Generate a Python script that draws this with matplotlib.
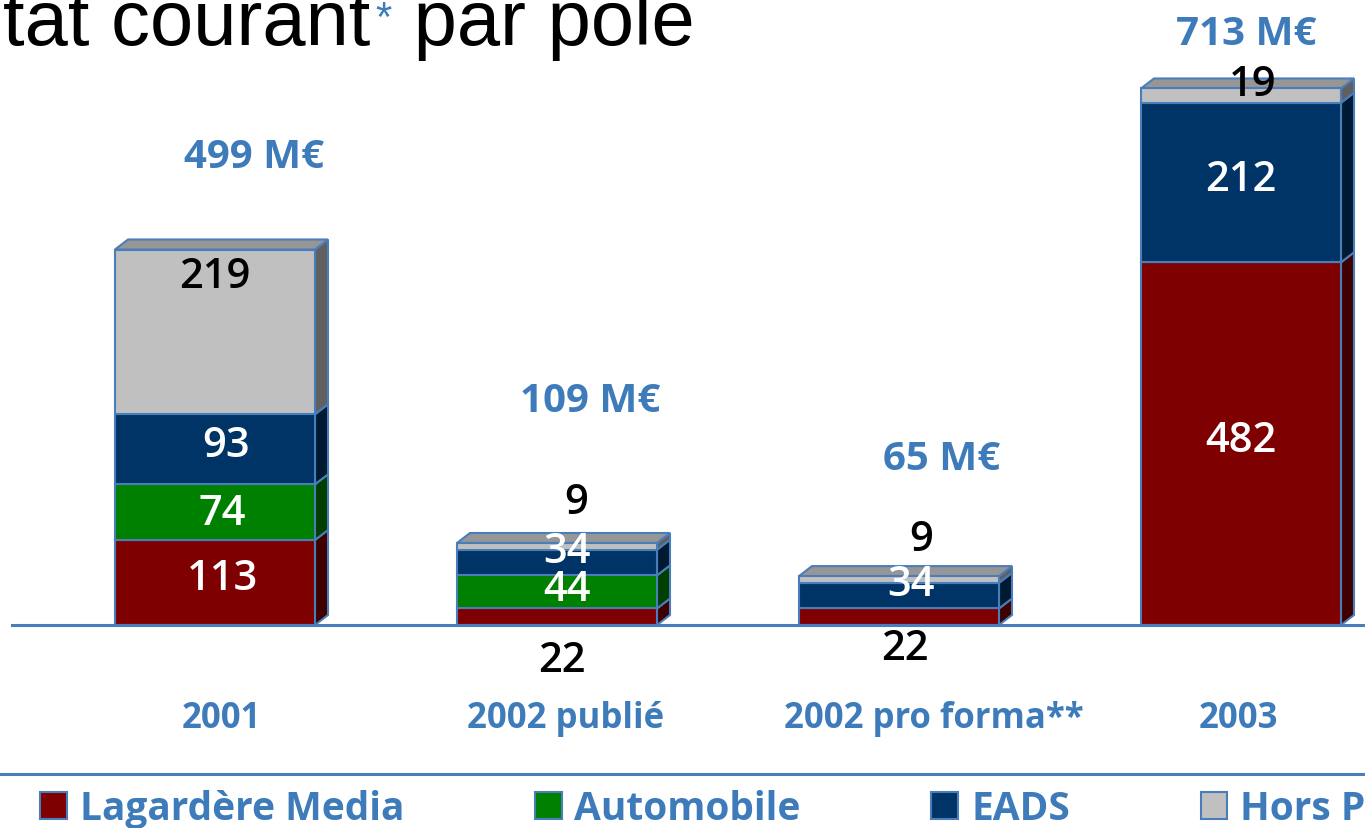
"""Résultat courant par pôle - stacked bars with a fake 3D look."""
import matplotlib
matplotlib.use('Agg')
import numpy as np
import matplotlib.pyplot as plt
from matplotlib.patches import Polygon, Patch
from matplotlib.lines import Line2D

# data (M€)
categories = ['2001', '2002 publié', '2002 pro forma**', '2003']
series_names = ['Lagardère Media', 'Automobile', 'EADS', 'Hors Pôle']
media = [113, 22, 22, 482]
automobile = [74, 44, 0, 0]
eads = [93, 34, 34, 212]
hors_pole = [219, 9, 9, 19]
totals = [499, 109, 65, 713]

# styles
FACE = ['#7F0000', '#008000', '#003366', '#C0C0C0']
SIDE = ['#3F0000', '#003F00', '#001A33', '#606060']
TOP = '#969696'
EDGE = '#4A7EBB'
BLUE = '#3E7BBA'
LABEL_COLOR = ['white', 'white', 'white', 'black']

# label offsets in pixels from the segment centre (dx, dy), per category then series
LABEL_OFFSETS = [
    [(7, 4), (7, -1), (11, 4), (0, 56)],
    [(5, -43), (10, 3), (10, 12), (19, 44)],
    [(6, -31), (0, 0), (12, 12), (22, 40)],
    [(0, 4), (0, 0), (0, 4), (12, 12)],
]
TOTAL_OFFSETS = [(39, 93), (33, 142), (43, 118), (5, 55)]
CAT_OFFSETS = [6, 9, 35, -3]

W, H = 1365, 829
BASE_PX = 626          # pixel row of the zero line
PX_PER_UNIT = 0.7525
PX_PER_CAT = 342
FIRST_PX = 215

FONT = ['Open Sans', 'DejaVu Sans']
TITLE_FONT = ['Liberation Sans', 'DejaVu Sans']


def main():
    plt.rcParams['font.family'] = FONT
    fig = plt.figure(figsize=(W / 100, H / 100), dpi=100)
    ax = fig.add_axes([0, 0, 1, 1])
    ax.set_xlim(-FIRST_PX / PX_PER_CAT, (W - FIRST_PX) / PX_PER_CAT)
    ax.set_ylim(-(H - BASE_PX) / PX_PER_UNIT, BASE_PX / PX_PER_UNIT)
    ax.axis('off')

    x = np.arange(len(categories))
    width = 200 / PX_PER_CAT
    ddx = 13 / PX_PER_CAT
    ddy = 10 / PX_PER_UNIT

    values = [media, automobile, eads, hors_pole]
    bottom = np.zeros(len(categories))
    for s, vals in enumerate(values):
        vals = np.array(vals, dtype=float)
        ax.bar(x, vals, width, bottom=bottom, color=FACE[s], edgecolor=EDGE,
               linewidth=1.5, zorder=3)
        for i in range(len(x)):
            if vals[i] <= 0:
                continue
            x0 = x[i] + width / 2
            b, t = bottom[i], bottom[i] + vals[i]
            ax.add_patch(Polygon([(x0, b), (x0 + ddx, b + ddy), (x0 + ddx, t + ddy), (x0, t)],
                                 closed=True, facecolor=SIDE[s], edgecolor=EDGE,
                                 linewidth=1.5, zorder=2))
            dx, dy = LABEL_OFFSETS[i][s]
            # labels pushed outside their segment are drawn in black
            outside = abs(dy) > vals[i] * PX_PER_UNIT / 2
            color = 'black' if outside else LABEL_COLOR[s]
            ax.annotate(f'{int(vals[i])}', xy=(x[i], b + vals[i] / 2), xytext=(dx, dy),
                        textcoords='offset pixels', ha='center', va='center',
                        fontsize=30, fontweight='semibold', color=color, zorder=5)
        bottom = bottom + vals

    # top faces, totals and category names
    for i in range(len(x)):
        xl, xr, t = x[i] - width / 2, x[i] + width / 2, bottom[i]
        ax.add_patch(Polygon([(xl, t), (xl + ddx, t + ddy), (xr + ddx, t + ddy), (xr, t)],
                             closed=True, facecolor=TOP, edgecolor=EDGE,
                             linewidth=1.5, zorder=2))
        dx, dy = TOTAL_OFFSETS[i]
        ax.annotate(f'{totals[i]} M€', xy=(x[i], t), xytext=(dx, dy),
                    textcoords='offset pixels', ha='center', va='center',
                    fontsize=29, fontweight='bold', color=BLUE)
        ax.annotate(categories[i], xy=(x[i], 0), xytext=(CAT_OFFSETS[i], -93),
                    textcoords='offset pixels', ha='center', va='center',
                    fontsize=25, fontweight='bold', color=BLUE)

    ax.axhline(0, xmin=12 / W, xmax=1, color=EDGE, linewidth=2.2, zorder=4)

    # title (cut by the slide edge, as in the original)
    t1 = fig.text(3 / W, 1 - 45 / H, 'tat courant', fontsize=56, color='black',
                  family=TITLE_FONT, va='baseline')
    t2 = ax.annotate('*', xy=(1, 1), xycoords=t1, xytext=(5, -12), textcoords='offset pixels',
                     fontsize=30, color=BLUE, family=TITLE_FONT, ha='left', va='top')
    ax.annotate(' par pôle', xy=(1, 0), xycoords=(t2, t1), fontsize=56, color='black',
                family=TITLE_FONT, ha='left', va='bottom')

    # legend separator and legend
    fig.add_artist(Line2D([0, 1], [1 - 775 / H, 1 - 775 / H], color=EDGE, linewidth=2.2))
    handles = [Patch(facecolor=FACE[s], edgecolor=EDGE, linewidth=1.5) for s in range(4)]
    leg = fig.legend(handles, series_names, loc='center left',
                     bbox_to_anchor=(40 / W, 1 - 810 / H), ncol=4, frameon=False,
                     prop={'size': 28, 'weight': 'bold'}, handlelength=0.69,
                     handleheight=0.69, handletextpad=0.33, columnspacing=3.36,
                     borderpad=0, borderaxespad=0)
    for txt in leg.get_texts():
        txt.set_color(BLUE)

    fig.savefig('out.png', dpi=100)
    plt.close(fig)


if __name__ == '__main__':
    main()
